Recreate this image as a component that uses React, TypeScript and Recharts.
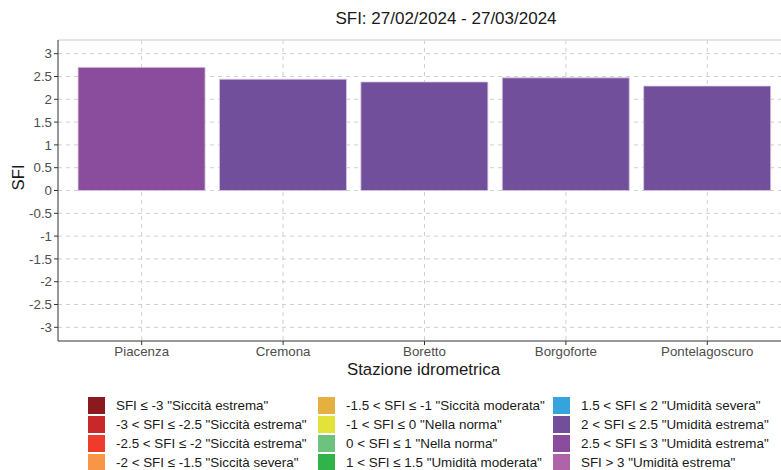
import { Bar, BarChart, CartesianGrid, Cell, ReferenceLine, XAxis, YAxis } from "recharts";

const stations = ["Piacenza", "Cremona", "Boretto", "Borgoforte", "Pontelagoscuro"];
const sfiValues = [2.7, 2.44, 2.38, 2.47, 2.29];
const yTicks = [-3, -2.5, -2, -1.5, -1, -0.5, 0, 0.5, 1, 1.5, 2, 2.5, 3];

const classLabels = [
    'SFI ≤ -3 "Siccità estrema"',
    '-3 < SFI ≤ -2.5 "Siccità estrema"',
    '-2.5 < SFI ≤ -2 "Siccità estrema"',
    '-2 < SFI ≤ -1.5 "Siccità severa"',
    '-1.5 < SFI ≤ -1 "Siccità moderata"',
    '-1 < SFI ≤ 0 "Nella norma"',
    '0 < SFI ≤ 1 "Nella norma"',
    '1 < SFI ≤ 1.5 "Umidità moderata"',
    '1.5 < SFI ≤ 2 "Umidità severa"',
    '2 < SFI ≤ 2.5 "Umidità estrema"',
    '2.5 < SFI ≤ 3 "Umidità estrema"',
    'SFI > 3 "Umidità estrema"',
];
const classUpper = [-3, -2.5, -2, -1.5, -1, 0, 1, 1.5, 2, 2.5, 3, Infinity];
const classColors = [
    "#8b1a1e", "#c8282a", "#ee3b2c", "#f79646",
    "#e6b040", "#e2e23a", "#6dc27e", "#2fb34a",
    "#35a4dc", "#714f9b", "#8a4d9e", "#b064a8",
];

const data = stations.map((name, i) => ({ name, sfi: sfiValues[i] }));

const colorFor = (v: number) => {
    const idx = classUpper.findIndex((u) => v <= u);
    return classColors[idx];
};

const FONT = '"Liberation Sans", Arial, sans-serif';

const legendColumns = [88, 318, 553];

// legend drawn below the plot, 3 columns x 4 rows like the ggplot original
const SfiLegend = () => (
    <div style={{ position: "absolute", left: 0, top: 397, width: 781, height: 76, fontFamily: FONT, fontSize: 13.4, color: "#1a1a1a" }}>
        {classLabels.map((label, i) => {
            const col = Math.floor(i / 4);
            const row = i % 4;
            return (
                <div key={label} style={{ position: "absolute", left: legendColumns[col], top: row * 19, height: 17, display: "flex", alignItems: "center", whiteSpace: "nowrap" }}>
                    <div style={{ width: 17, height: 17, background: classColors[i] }} />
                    <span style={{ marginLeft: 11 }}>{label}</span>
                </div>
            );
        })}
    </div>
);

const App = () => {
    return (
        <div style={{ position: "absolute", left: 0, top: 0, width: 781, height: 470, background: "#fff", fontFamily: FONT, overflow: "hidden" }}>
            <div style={{ position: "absolute", left: 0, top: 9, width: 781, textAlign: "center", paddingLeft: 111, boxSizing: "border-box", fontSize: 17, color: "#1a1a1a" }}>
                SFI: 27/02/2024 - 27/03/2024
            </div>
            <BarChart
                width={781}
                height={470}
                data={data}
                margin={{ top: 40, right: 0, left: 0, bottom: 99 }}
                barCategoryGap="5%"
            >
                <CartesianGrid stroke="#cfcfcf" strokeDasharray="4 4" syncWithTicks />
                <ReferenceLine y={3.3} stroke="#dddddd" strokeWidth={1.5} strokeDasharray="0" />
                <XAxis
                    dataKey="name"
                    height={30}
                    padding={{ left: 13, right: 3 }}
                    axisLine={{ stroke: "#333333" }}
                    tickLine={{ stroke: "#333333" }}
                    tickSize={4}
                    tick={{ fill: "#4d4d4d", fontSize: 13.3, fontFamily: FONT }}
                    label={{ value: "Stazione idrometrica", position: "insideBottom", offset: -4, fill: "#1a1a1a", fontSize: 16.8, fontFamily: FONT, dx: 4 }}
                    interval={0}
                />
                <YAxis
                    domain={[-3.3, 3.3]}
                    ticks={yTicks}
                    interval={0}
                    width={58}
                    allowDataOverflow
                    axisLine={{ stroke: "#333333" }}
                    tickLine={{ stroke: "#333333" }}
                    tickSize={4}
                    tick={{ fill: "#4d4d4d", fontSize: 13.3, fontFamily: FONT }}
                    label={{ value: "SFI", angle: -90, position: "insideLeft", offset: 18, fill: "#1a1a1a", fontSize: 16.8, fontFamily: FONT }}
                />
                <Bar dataKey="sfi" isAnimationActive={false} stroke="#d8c8e0" strokeWidth={0.8}>
                    {data.map((entry, index) => (
                        <Cell key={`cell-${index}`} fill={colorFor(entry.sfi)} />
                    ))}
                </Bar>
            </BarChart>
            <SfiLegend />
        </div>
    );
};

export default App;
